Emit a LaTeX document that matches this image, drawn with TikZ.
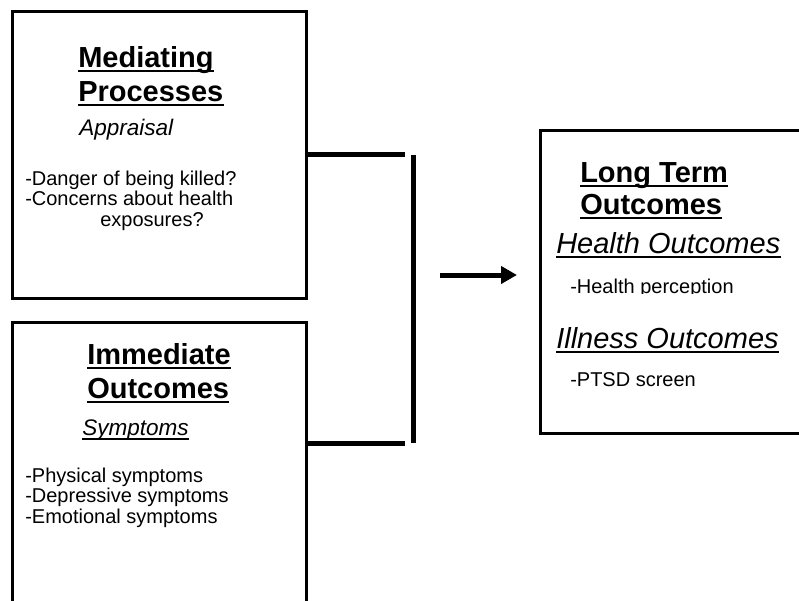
\documentclass[tikz,border=0pt]{standalone}
\usepackage{fontspec}
\setmainfont{Liberation Sans}
\usetikzlibrary{arrows.meta}
\begin{document}
\begin{tikzpicture}[x=0.75pt,y=-0.75pt,
  box/.style={draw, line width=2.25pt, inner sep=0pt, outer sep=0pt},
  conn/.style={line width=3.75pt},
  ttl/.style={anchor=base west, inner sep=0pt, font=\fontsize{21.75}{25}\bfseries},
  sub/.style={anchor=base west, inner sep=0pt, font=\fontsize{16.9}{19}\itshape},
  big/.style={anchor=base west, inner sep=0pt, font=\fontsize{21.75}{25}\itshape},
  body/.style={anchor=base west, inner sep=0pt, font=\fontsize{15}{17}\selectfont},
  uthick/.style={line width=1.9pt},
  uthin/.style={line width=1.4pt}
]
\clip (0,0) rectangle (799,600);
\fill[white] (0,0) rectangle (799,600);

% boxes
\node[box, minimum width=220.5pt, minimum height=215.25pt] (m) at (159,154.5) {};
\node[box, minimum width=220.5pt, minimum height=238.5pt] (i) at (159,481) {};
\node[box, minimum width=225pt, minimum height=227.25pt] (l) at (690,281.5) {};

% connectors
\coordinate (ht) at (405,154);
\coordinate (hb) at (405,443);
\coordinate (bt) at (413,155);
\coordinate (bb) at (413,443);
\coordinate (as) at (440,275);
\coordinate (ae) at (517,275);
\draw[conn] (m.east |- ht) -- (ht);
\draw[conn] (i.east |- hb) -- (hb);
\draw[conn] (bt) -- (bb);
\draw[conn,-{Triangle[length=12pt,width=12.75pt]}] (as) -- (ae);

% box 1
\node[ttl] (m1) at (78,67) {Mediating};
\node[ttl] (m2) at (78,101) {Processes};
\node[sub] (m3) at (79,135) {Appraisal};
\node[body] (m4) at (25,185) {-Danger of being killed?};
\node[body] (m5) at (25,205.5) {-Concerns about health};
\node[body] (m6) at (100,226) {exposures?};
\draw[uthick] ([yshift=-3pt]m1.base west) -- ([yshift=-3pt]m1.base east);
\draw[uthick] ([yshift=-3pt]m2.base west) -- ([yshift=-3pt]m2.base east);

% box 2
\node[ttl] (i1) at (87,364) {Immediate};
\node[ttl] (i2) at (87,398) {Outcomes};
\node[sub] (i3) at (82,435) {Symptoms};
\node[body] (i4) at (25,482) {-Physical symptoms};
\node[body] (i5) at (25,502.5) {-Depressive symptoms};
\node[body] (i6) at (25,523) {-Emotional symptoms};
\draw[uthick] ([yshift=-3pt]i1.base west) -- ([yshift=-3pt]i1.base east);
\draw[uthick] ([yshift=-3pt]i2.base west) -- ([yshift=-3pt]i2.base east);
\draw[uthin] ([yshift=-3pt]i3.base west) -- ([yshift=-3pt]i3.base east);

% box 3
\node[ttl] (l1) at (580,182) {Long Term};
\node[ttl] (l2) at (580,214) {Outcomes};
\node[big] (l3) at (556,253) {Health Outcomes};
\begin{scope}
\clip (545,260) rectangle (799,293.5);
\node[body] (l4) at (570,293) {-Health perception};
\end{scope}
\node[big] (l5) at (556,348) {Illness Outcomes};
\node[body] (l6) at (570,386) {-PTSD screen};
\draw[uthick] ([yshift=-3pt]l1.base west) -- ([yshift=-3pt]l1.base east);
\draw[uthick] ([yshift=-3pt]l2.base west) -- ([yshift=-3pt]l2.base east);
\draw[uthin] ([yshift=-3pt]l3.base west) -- ([yshift=-3pt]l3.base east);
\draw[uthin] ([yshift=-3pt]l5.base west) -- ([yshift=-3pt]l5.base east);
\end{tikzpicture}
\end{document}
